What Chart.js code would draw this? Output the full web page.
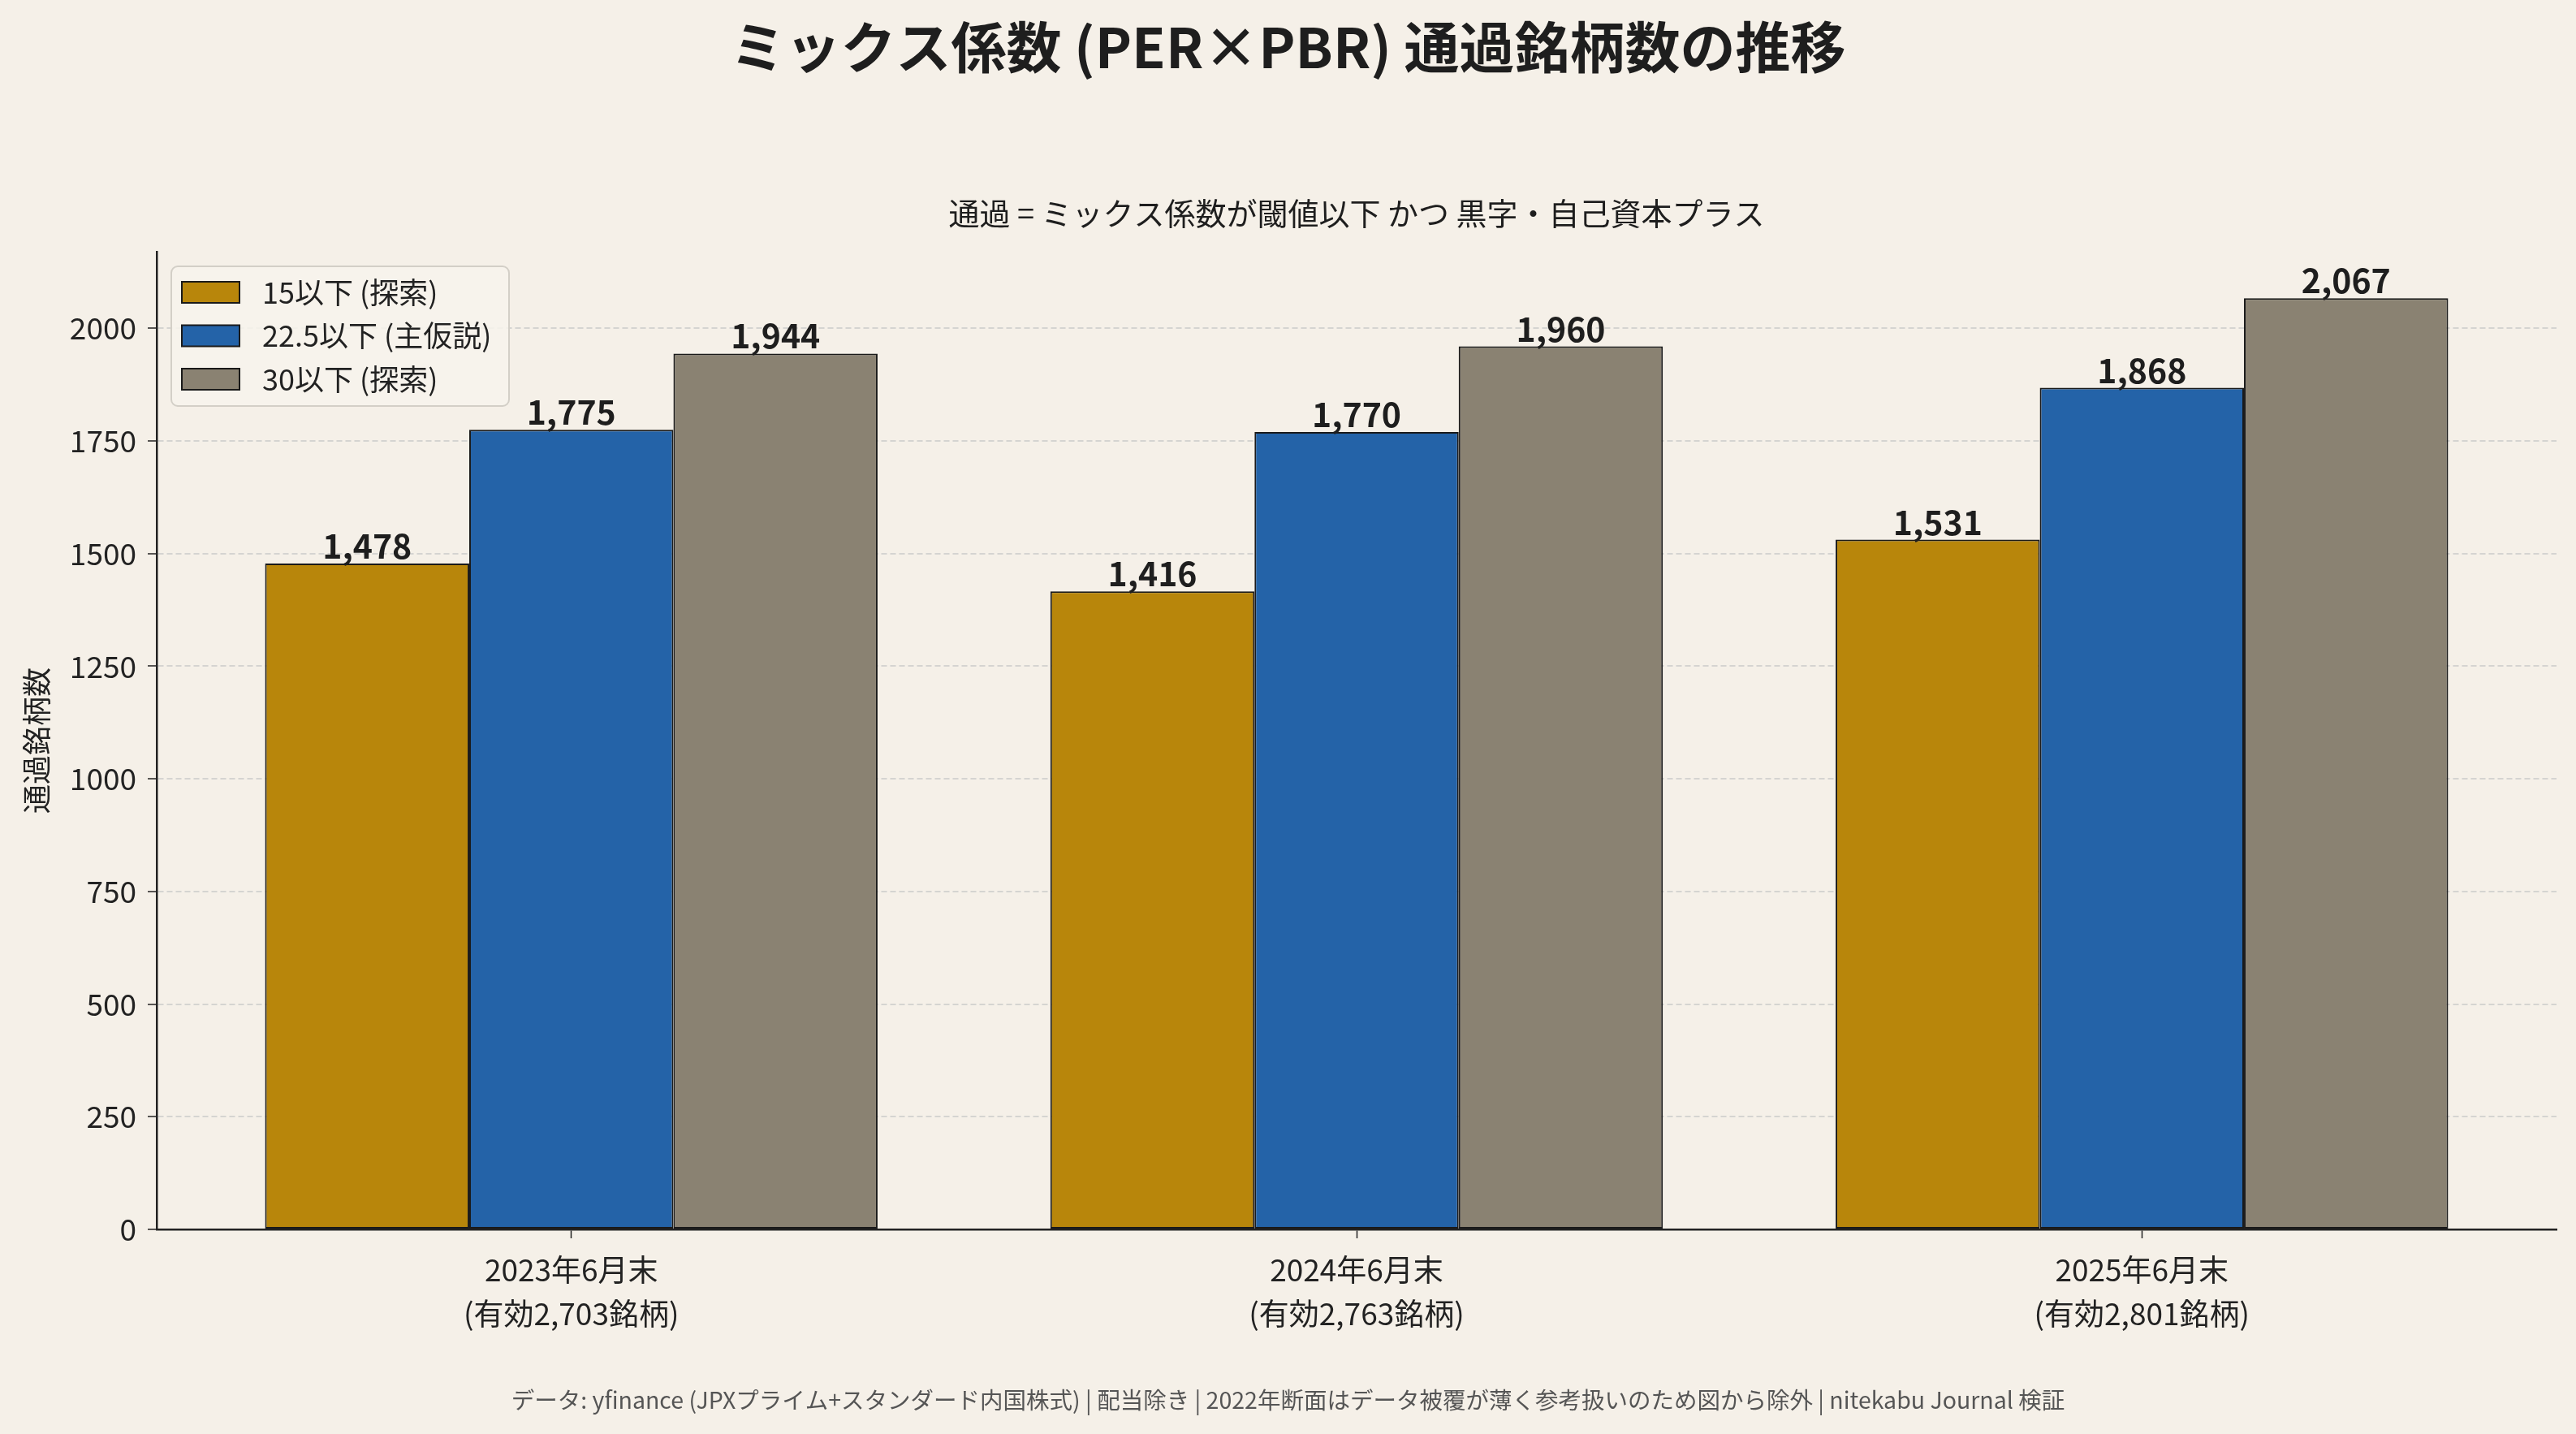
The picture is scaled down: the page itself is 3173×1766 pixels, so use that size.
<!DOCTYPE html>
<html><head><meta charset="utf-8">
<script src="https://cdn.jsdelivr.net/npm/chart.js@4/dist/chart.umd.min.js"></script>
<style>html,body{margin:0;padding:0;background:#F5F0E8;}#wrap{width:3173px;height:1766px;}</style>
</head><body><div id="wrap"><canvas id="c" width="3173" height="1766"></canvas></div>
<script>
const categories = ['2023年6月末', '2024年6月末', '2025年6月末'];
const validCounts = ['(有効2,703銘柄)', '(有効2,763銘柄)', '(有効2,801銘柄)'];
const seriesLabels = ['15以下 (探索)', '22.5以下 (主仮説)', '30以下 (探索)'];
const series15 = [1478, 1416, 1531];
const series225 = [1775, 1770, 1868];
const series30 = [1944, 1960, 2067];
const yTicksMax = 2170;
const colors = ['#B8860B', '#2463A8', '#8A8272'];
const titleText = 'ミックス係数 (PER×PBR) 通過銘柄数の推移';
const subtitleText = '通過 = ミックス係数が閾値以下 かつ 黒字・自己資本プラス';
const yTitle = '通過銘柄数';
const footerText = 'データ: yfinance (JPXプライム+スタンダード内国株式) | 配当除き | 2022年断面はデータ被覆が薄く参考扱いのため図から除外 | nitekabu Journal 検証';

const FONT = '"Noto Sans CJK JP", "Noto Sans", sans-serif';
const allSeries = [series15, series225, series30];

const decor = {
  id: 'decor',
  beforeDraw(chart) {
    const ctx = chart.ctx, a = chart.chartArea;
    ctx.save();
    ctx.fillStyle = '#F5F0E8';
    ctx.fillRect(0, 0, chart.width, chart.height);
    ctx.fillStyle = '#1E1E1E';
    ctx.textAlign = 'center'; ctx.textBaseline = 'middle';
    ctx.font = 'bold 68px ' + FONT;
    ctx.fillText(titleText, chart.width / 2, 58);
    ctx.font = '38px ' + FONT;
    ctx.fillText(subtitleText, (a.left + a.right) / 2, 263);
    ctx.fillStyle = '#555555';
    ctx.font = '28.5px ' + FONT;
    ctx.fillText(footerText, chart.width / 2, 1724);
    ctx.restore();
  },
  afterDatasetsDraw(chart) {
    const ctx = chart.ctx;
    ctx.save();
    ctx.fillStyle = '#1E1E1E';
    ctx.font = 'bold 41px ' + FONT;
    ctx.textAlign = 'center'; ctx.textBaseline = 'alphabetic';
    chart.data.datasets.forEach((ds, di) => {
      chart.getDatasetMeta(di).data.forEach((bar, i) => {
        ctx.fillText(ds.data[i].y.toLocaleString('en-US'), bar.x, bar.y - 6);
      });
    });
    ctx.restore();
  },
  afterDraw(chart) {
    const ctx = chart.ctx, a = chart.chartArea;
    const L = a.left + 18, T = a.top + 18, W = 416, H = 172;
    ctx.save();
    ctx.beginPath();
    ctx.roundRect(L, T, W, H, 8);
    ctx.fillStyle = 'rgba(247,243,236,0.85)';
    ctx.fill();
    ctx.lineWidth = 2;
    ctx.strokeStyle = '#D3CFC7';
    ctx.stroke();
    ctx.font = '36px ' + FONT;
    ctx.textBaseline = 'middle'; ctx.textAlign = 'left';
    chart.data.datasets.forEach((ds, i) => {
      const cy = T + 32 + i * 53.5;
      ctx.fillStyle = ds.backgroundColor;
      ctx.fillRect(L + 13, cy - 13, 71, 26);
      ctx.lineWidth = 2; ctx.strokeStyle = '#1A1A1A';
      ctx.strokeRect(L + 13, cy - 13, 71, 26);
      ctx.fillStyle = '#222';
      ctx.fillText(ds.label, L + 112, cy);
    });
    ctx.restore();
  }
};

new Chart(document.getElementById('c'), {
  type: 'bar',
  data: {
    datasets: allSeries.map((s, k) => ({
      label: seriesLabels[k],
      data: s.map((v, i) => ({ x: i, y: v })),
      backgroundColor: colors[k],
      borderColor: '#1A1A1A',
      borderWidth: 2,
      borderSkipped: false,
      categoryPercentage: 0.78,
      barPercentage: 1.0
    }))
  },
  options: {
    responsive: false,
    animation: false,
    devicePixelRatio: 1,
    layout: { padding: { top: 310, right: 24, bottom: 0, left: 0 } },
    plugins: { legend: { display: false }, title: { display: false }, tooltip: { enabled: false } },
    scales: {
      x: {
        type: 'linear',
        offset: false,
        min: -0.528, max: 2.528,
        afterFit(s) { s.height = 252; },
        ticks: {
          stepSize: 1, includeBounds: false, autoSkip: false, maxRotation: 0,
          color: '#222', padding: 12,
          font: { family: FONT, size: 37, lineHeight: 1.45 },
          callback: (v) => Number.isInteger(v) && v >= 0 && v < categories.length ? [categories[v], validCounts[v]] : ''
        },
        grid: { offset: false, drawOnChartArea: false, tickLength: 11, tickColor: '#222', tickWidth: 1.5, color: '#222' },
        border: { color: '#222', width: 2.5 }
      },
      y: {
        min: 0, max: yTicksMax,
        z: 1,
        afterFit(s) { s.width = 193; },
        ticks: { stepSize: 250, includeBounds: false, color: '#222', padding: 14, font: { family: FONT, size: 37 }, callback: (v) => String(v) },
        grid: { color: 'rgba(200,200,200,0.7)', lineWidth: 2, tickLength: 11, tickColor: '#222', tickWidth: 1.5, tickBorderDash: [] },
        border: { color: '#222', width: 2.5, dash: [7, 4] },
        title: { display: true, text: yTitle, color: '#222', font: { family: FONT, size: 36 }, padding: { top: 24, bottom: 0 } }
      }
    }
  },
  plugins: [decor]
});
</script></body></html>
